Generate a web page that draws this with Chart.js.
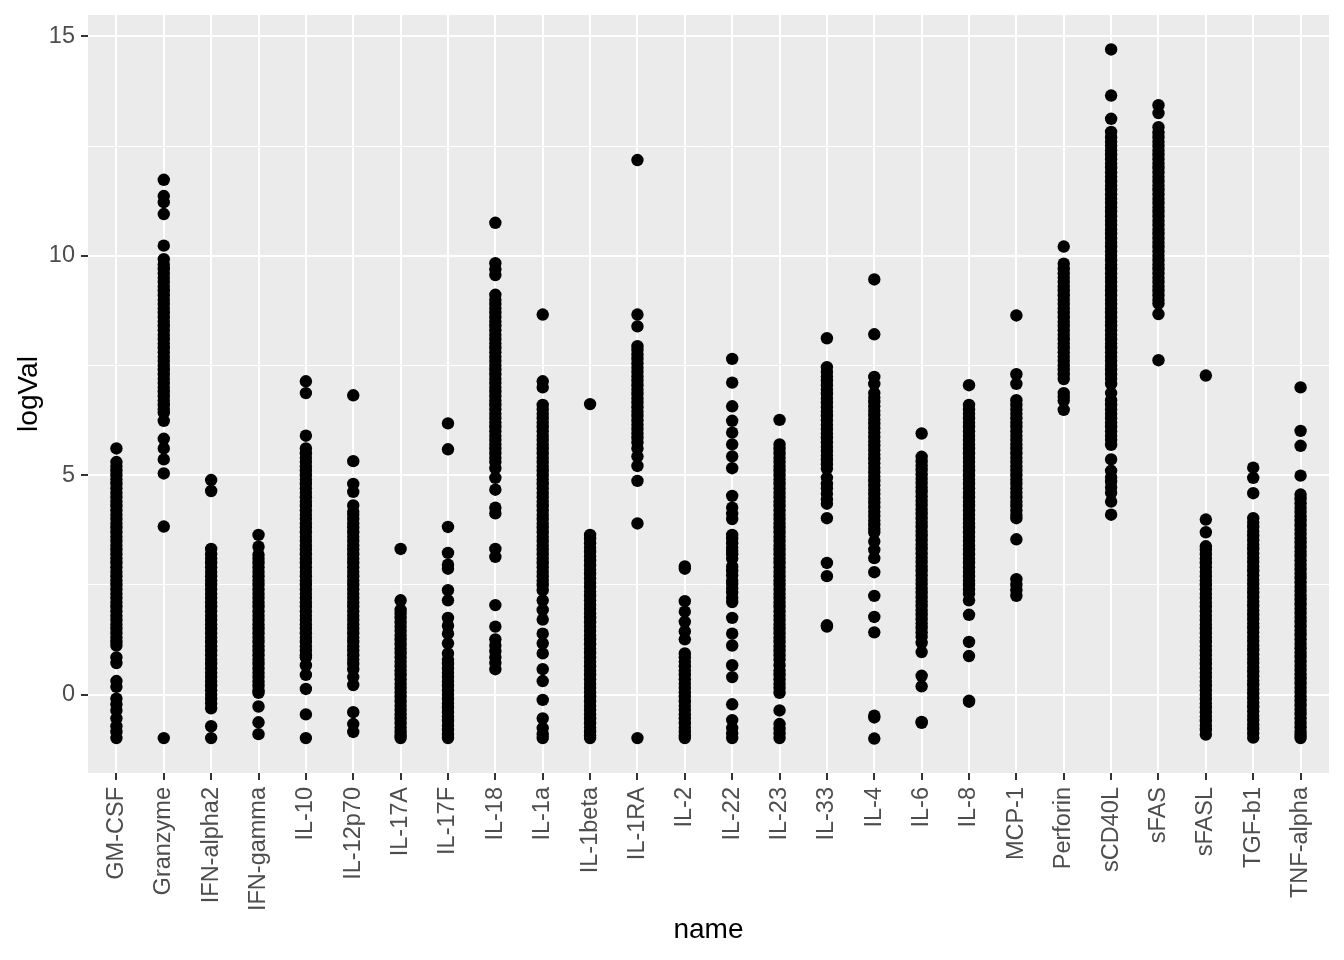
<!DOCTYPE html>
<html>
<head>
<meta charset="utf-8">
<script src="https://cdn.jsdelivr.net/npm/chart.js@4.4.0/dist/chart.umd.min.js"></script>
<style>
  html, body { margin: 0; padding: 0; background: #ffffff; }
  canvas { display: block; }
</style>
</head>
<body>
<canvas id="chart" width="1344" height="960"></canvas>
<script>
// categorias do eixo x
const categories = ['GM-CSF', 'Granzyme', 'IFN-alpha2', 'IFN-gamma', 'IL-10', 'IL-12p70', 'IL-17A', 'IL-17F',
  'IL-18', 'IL-1a', 'IL-1beta', 'IL-1RA', 'IL-2', 'IL-22', 'IL-23', 'IL-33', 'IL-4', 'IL-6', 'IL-8',
  'MCP-1', 'Perforin', 'sCD40L', 'sFAS', 'sFASL', 'TGF-b1', 'TNF-alpha'];

// valores (logVal), uma lista por categoria
const gmCsf = [5.61, 5.3, 5.2, 5.1, 5.0, 4.9, 4.8, 4.7, 4.6, 4.5, 4.4, 4.3, 4.2, 4.1, 4.0, 3.9, 3.8, 3.7, 3.6, 3.5, 3.4, 3.3, 3.2, 3.1, 3.0, 2.9, 2.8, 2.7, 2.6, 2.5, 2.4, 2.3, 2.2, 2.1, 2.0, 1.9, 1.8, 1.7, 1.6, 1.5, 1.4, 1.3, 1.2, 1.12, 0.85, 0.72, 0.31, 0.18, -0.09, -0.22, -0.36, -0.54, -0.72, -0.85, -0.99];
const granzyme = [11.73, 11.36, 11.22, 10.95, 10.23, 9.92, 9.8, 9.7, 9.6, 9.5, 9.4, 9.3, 9.2, 9.1, 9.0, 8.9, 8.8, 8.7, 8.6, 8.5, 8.4, 8.3, 8.2, 8.1, 8.0, 7.9, 7.8, 7.7, 7.6, 7.5, 7.4, 7.3, 7.2, 7.1, 7.0, 6.9, 6.8, 6.7, 6.6, 6.5, 6.42, 6.24, 5.83, 5.61, 5.36, 5.04, 3.83, -0.99];
const ifnAlpha2 = [4.89, 4.64, 3.32, 3.2, 3.1, 3.0, 2.9, 2.8, 2.7, 2.6, 2.5, 2.4, 2.3, 2.2, 2.1, 2.0, 1.9, 1.8, 1.7, 1.6, 1.5, 1.4, 1.3, 1.2, 1.1, 1.0, 0.9, 0.8, 0.7, 0.6, 0.5, 0.4, 0.3, 0.2, 0.1, 0.0, -0.1, -0.2, -0.31, -0.72, -0.99];
const ifnGamma = [3.64, 3.37, 3.19, 3.1, 3.0, 2.9, 2.8, 2.7, 2.6, 2.5, 2.4, 2.3, 2.2, 2.1, 2.0, 1.9, 1.8, 1.7, 1.6, 1.5, 1.4, 1.3, 1.2, 1.1, 1.0, 0.9, 0.8, 0.7, 0.6, 0.5, 0.4, 0.3, 0.2, 0.1, 0.04, -0.27, -0.63, -0.9];
const il10 = [7.14, 6.87, 5.9, 5.61, 5.5, 5.4, 5.3, 5.2, 5.1, 5.0, 4.9, 4.8, 4.7, 4.6, 4.5, 4.4, 4.3, 4.2, 4.1, 4.0, 3.9, 3.8, 3.7, 3.6, 3.5, 3.4, 3.3, 3.2, 3.1, 3.0, 2.9, 2.8, 2.7, 2.6, 2.5, 2.4, 2.3, 2.2, 2.1, 2.0, 1.9, 1.8, 1.7, 1.6, 1.5, 1.4, 1.3, 1.2, 1.1, 1.0, 0.9, 0.85, 0.67, 0.45, 0.13, -0.45, -0.99];
const il12p70 = [6.82, 5.32, 4.8, 4.62, 4.31, 4.17, 4.1, 4.0, 3.9, 3.8, 3.7, 3.6, 3.5, 3.4, 3.3, 3.2, 3.1, 3.0, 2.9, 2.8, 2.7, 2.6, 2.5, 2.4, 2.3, 2.2, 2.1, 2.0, 1.9, 1.8, 1.7, 1.6, 1.5, 1.4, 1.3, 1.2, 1.1, 1.0, 0.9, 0.8, 0.7, 0.58, 0.4, 0.22, -0.4, -0.67, -0.85];
const il17a = [3.32, 2.15, 1.93, 1.85, 1.75, 1.65, 1.55, 1.45, 1.35, 1.25, 1.15, 1.05, 0.95, 0.85, 0.75, 0.65, 0.55, 0.45, 0.35, 0.25, 0.15, 0.05, -0.05, -0.15, -0.25, -0.35, -0.45, -0.55, -0.65, -0.75, -0.85, -0.93, -0.99];
const il17f = [6.18, 5.59, 3.82, 3.23, 2.96, 2.87, 2.38, 2.15, 1.75, 1.57, 1.39, 1.17, 0.94, 0.8, 0.7, 0.6, 0.5, 0.4, 0.3, 0.2, 0.1, 0.0, -0.1, -0.2, -0.3, -0.4, -0.5, -0.6, -0.7, -0.8, -0.9, -0.99];
const il18 = [10.75, 9.83, 9.69, 9.56, 9.11, 9.0, 8.9, 8.8, 8.7, 8.6, 8.5, 8.4, 8.3, 8.2, 8.1, 8.0, 7.9, 7.8, 7.7, 7.6, 7.5, 7.4, 7.3, 7.2, 7.1, 7.0, 6.9, 6.8, 6.7, 6.6, 6.5, 6.4, 6.3, 6.2, 6.1, 6.0, 5.9, 5.8, 5.7, 5.6, 5.5, 5.4, 5.3, 5.16, 4.94, 4.67, 4.26, 4.13, 3.32, 3.14, 2.04, 1.55, 1.26, 1.12, 0.99, 0.85, 0.72, 0.58];
const il1a = [8.66, 7.14, 7.0, 6.6, 6.5, 6.4, 6.3, 6.2, 6.1, 6.0, 5.9, 5.8, 5.7, 5.6, 5.5, 5.4, 5.3, 5.2, 5.1, 5.0, 4.9, 4.8, 4.7, 4.6, 4.5, 4.4, 4.3, 4.2, 4.1, 4.0, 3.9, 3.8, 3.7, 3.6, 3.5, 3.4, 3.3, 3.2, 3.1, 3.0, 2.9, 2.8, 2.7, 2.6, 2.5, 2.38, 2.15, 1.93, 1.71, 1.39, 1.17, 0.94, 0.58, 0.31, -0.12, -0.54, -0.76, -0.9, -0.99];
const il1beta = [6.62, 3.64, 3.55, 3.45, 3.35, 3.25, 3.15, 3.05, 2.95, 2.85, 2.75, 2.65, 2.55, 2.45, 2.35, 2.25, 2.15, 2.05, 1.95, 1.85, 1.75, 1.65, 1.55, 1.45, 1.35, 1.25, 1.15, 1.05, 0.95, 0.85, 0.75, 0.65, 0.55, 0.45, 0.35, 0.25, 0.15, 0.05, -0.05, -0.15, -0.25, -0.35, -0.45, -0.55, -0.65, -0.75, -0.85, -0.93, -0.99];
const il1ra = [12.18, 8.66, 8.39, 7.94, 7.85, 7.75, 7.65, 7.55, 7.45, 7.35, 7.25, 7.15, 7.05, 6.95, 6.85, 6.75, 6.65, 6.55, 6.45, 6.35, 6.25, 6.15, 6.05, 5.95, 5.85, 5.75, 5.61, 5.43, 5.21, 4.87, 3.9, -0.99];
const il2 = [2.92, 2.87, 2.13, 1.89, 1.66, 1.44, 1.26, 0.94, 0.85, 0.75, 0.65, 0.55, 0.45, 0.35, 0.25, 0.15, 0.05, -0.05, -0.15, -0.25, -0.35, -0.45, -0.55, -0.65, -0.75, -0.85, -0.93, -0.99];
const il22 = [7.65, 7.11, 6.57, 6.24, 5.97, 5.7, 5.43, 5.16, 4.53, 4.26, 4.12, 4.0, 3.64, 3.55, 3.45, 3.35, 3.28, 3.2, 3.1, 2.92, 2.82, 2.72, 2.6, 2.52, 2.42, 2.32, 2.2, 2.11, 1.75, 1.39, 1.12, 0.67, 0.4, -0.22, -0.58, -0.76, -0.88, -0.99];
const il23 = [6.26, 5.7, 5.6, 5.5, 5.4, 5.3, 5.2, 5.1, 5.0, 4.9, 4.8, 4.7, 4.6, 4.5, 4.4, 4.3, 4.2, 4.1, 4.0, 3.9, 3.8, 3.7, 3.6, 3.5, 3.4, 3.3, 3.2, 3.1, 3.0, 2.9, 2.8, 2.7, 2.6, 2.5, 2.4, 2.3, 2.2, 2.1, 2.0, 1.9, 1.8, 1.7, 1.6, 1.5, 1.4, 1.3, 1.2, 1.1, 1.0, 0.9, 0.8, 0.67, 0.55, 0.45, 0.35, 0.25, 0.15, 0.04, -0.36, -0.67, -0.78, -0.88, -0.99];
const il33 = [8.12, 7.46, 7.35, 7.25, 7.15, 7.05, 6.95, 6.85, 6.75, 6.65, 6.55, 6.45, 6.35, 6.25, 6.15, 6.05, 5.95, 5.85, 5.75, 5.65, 5.55, 5.45, 5.35, 5.25, 5.15, 4.94, 4.8, 4.7, 4.58, 4.45, 4.35, 4.02, 3.0, 2.7, 1.58, 1.55];
const il4 = [9.46, 8.21, 7.24, 7.08, 6.87, 6.77, 6.67, 6.57, 6.47, 6.37, 6.27, 6.17, 6.07, 5.97, 5.87, 5.77, 5.67, 5.57, 5.47, 5.37, 5.27, 5.17, 5.07, 4.97, 4.87, 4.77, 4.67, 4.57, 4.47, 4.37, 4.27, 4.17, 4.07, 3.97, 3.87, 3.78, 3.7, 3.49, 3.3, 3.11, 2.79, 2.25, 1.77, 1.42, -0.48, -0.52, -1.0];
const il6 = [5.95, 5.42, 5.32, 5.22, 5.12, 5.02, 4.92, 4.82, 4.72, 4.62, 4.52, 4.42, 4.32, 4.22, 4.12, 4.02, 3.92, 3.82, 3.72, 3.62, 3.52, 3.42, 3.32, 3.22, 3.12, 3.02, 2.92, 2.82, 2.72, 2.62, 2.52, 2.42, 2.32, 2.22, 2.12, 2.02, 1.92, 1.82, 1.72, 1.62, 1.52, 1.42, 1.32, 1.18, 0.97, 0.43, 0.19, -0.64, -0.62];
const il8 = [7.05, 6.6, 6.5, 6.4, 6.3, 6.2, 6.1, 6.0, 5.9, 5.8, 5.7, 5.6, 5.5, 5.4, 5.3, 5.2, 5.1, 5.0, 4.9, 4.8, 4.7, 4.6, 4.5, 4.4, 4.3, 4.2, 4.1, 4.0, 3.9, 3.8, 3.7, 3.6, 3.5, 3.4, 3.3, 3.2, 3.1, 3.0, 2.9, 2.8, 2.7, 2.6, 2.5, 2.4, 2.3, 2.15, 1.82, 1.2, 0.88, -0.14, -0.16];
const mcp1 = [8.64, 7.3, 7.08, 6.71, 6.6, 6.5, 6.4, 6.3, 6.2, 6.1, 6.0, 5.9, 5.8, 5.7, 5.6, 5.5, 5.4, 5.3, 5.2, 5.1, 5.0, 4.9, 4.8, 4.7, 4.6, 4.5, 4.4, 4.3, 4.2, 4.1, 4.02, 3.54, 2.63, 2.5, 2.38, 2.25];
const perforin = [10.21, 9.82, 9.7, 9.6, 9.5, 9.4, 9.3, 9.2, 9.1, 9.0, 8.9, 8.8, 8.7, 8.6, 8.5, 8.4, 8.3, 8.2, 8.1, 8.0, 7.9, 7.8, 7.7, 7.6, 7.5, 7.4, 7.3, 7.19, 6.87, 6.78, 6.7, 6.49];
const scd40l = [14.7, 13.65, 13.12, 12.82, 12.7, 12.6, 12.5, 12.4, 12.3, 12.2, 12.1, 12.0, 11.9, 11.8, 11.7, 11.6, 11.5, 11.4, 11.3, 11.2, 11.1, 11.0, 10.9, 10.8, 10.7, 10.6, 10.5, 10.4, 10.3, 10.2, 10.1, 10.0, 9.9, 9.8, 9.7, 9.6, 9.5, 9.4, 9.3, 9.2, 9.1, 9.0, 8.9, 8.8, 8.7, 8.6, 8.5, 8.4, 8.3, 8.2, 8.1, 8.0, 7.9, 7.8, 7.7, 7.6, 7.5, 7.4, 7.3, 7.2, 7.08, 6.87, 6.71, 6.6, 6.5, 6.4, 6.3, 6.2, 6.1, 6.0, 5.9, 5.8, 5.69, 5.36, 5.1, 4.95, 4.85, 4.72, 4.6, 4.4, 4.1];
const sfas = [13.43, 13.25, 12.93, 12.8, 12.7, 12.6, 12.5, 12.4, 12.3, 12.2, 12.1, 12.0, 11.9, 11.8, 11.7, 11.6, 11.5, 11.4, 11.3, 11.2, 11.1, 11.0, 10.9, 10.8, 10.7, 10.6, 10.5, 10.4, 10.3, 10.2, 10.1, 10.0, 9.9, 9.8, 9.7, 9.6, 9.5, 9.4, 9.3, 9.2, 9.1, 9.0, 8.91, 8.67, 7.62];
const sfasl = [7.27, 3.99, 3.7, 3.38, 3.3, 3.2, 3.1, 3.0, 2.9, 2.8, 2.7, 2.6, 2.5, 2.4, 2.3, 2.2, 2.1, 2.0, 1.9, 1.8, 1.7, 1.6, 1.5, 1.4, 1.3, 1.2, 1.1, 1.0, 0.9, 0.8, 0.7, 0.6, 0.5, 0.4, 0.3, 0.2, 0.1, 0.0, -0.1, -0.2, -0.3, -0.4, -0.5, -0.6, -0.7, -0.8, -0.91];
const tgfB1 = [5.17, 4.94, 4.59, 4.02, 3.92, 3.82, 3.72, 3.62, 3.52, 3.42, 3.32, 3.22, 3.12, 3.02, 2.92, 2.82, 2.72, 2.62, 2.52, 2.42, 2.32, 2.22, 2.12, 2.02, 1.92, 1.82, 1.72, 1.62, 1.52, 1.42, 1.32, 1.22, 1.12, 1.02, 0.92, 0.82, 0.72, 0.62, 0.52, 0.42, 0.32, 0.22, 0.12, 0.02, -0.08, -0.18, -0.28, -0.38, -0.48, -0.58, -0.68, -0.78, -0.88, -0.98];
const tnfAlpha = [7.0, 6.01, 5.67, 4.99, 4.56, 4.46, 4.36, 4.26, 4.16, 4.06, 3.96, 3.86, 3.76, 3.66, 3.56, 3.46, 3.36, 3.26, 3.16, 3.06, 2.96, 2.86, 2.76, 2.66, 2.56, 2.46, 2.36, 2.26, 2.16, 2.06, 1.96, 1.86, 1.76, 1.66, 1.56, 1.46, 1.36, 1.26, 1.16, 1.06, 0.96, 0.86, 0.76, 0.66, 0.56, 0.46, 0.36, 0.26, 0.16, 0.06, -0.04, -0.14, -0.24, -0.34, -0.44, -0.54, -0.64, -0.74, -0.84, -0.92, -0.99];

const columns = [gmCsf, granzyme, ifnAlpha2, ifnGamma, il10, il12p70, il17a, il17f, il18, il1a, il1beta, il1ra,
  il2, il22, il23, il33, il4, il6, il8, mcp1, perforin, scd40l, sfas, sfasl, tgfB1, tnfAlpha];

// marcas do eixo y (maiores a cada 5, menores no meio)
const yTicks = [0, 2.5, 5, 7.5, 10, 12.5, 15];

const isMajor = v => v % 5 === 0;

// pontos {x, y}: x = posição da categoria (1..26)
const points = [];
columns.forEach((vals, i) => {
  vals.forEach(v => points.push({ x: i + 1, y: v }));
});

// fundo cinza do painel (estilo ggplot)
const panelBackground = {
  id: 'panelBackground',
  beforeDraw(chart) {
    const { ctx, chartArea: a } = chart;
    ctx.save();
    ctx.fillStyle = '#EBEBEB';
    ctx.fillRect(a.left, a.top, a.right - a.left, a.bottom - a.top);
    ctx.restore();
  }
};

Chart.defaults.font.family = "'Liberation Sans', Arial, Helvetica, sans-serif";

new Chart(document.getElementById('chart').getContext('2d'), {
  type: 'scatter',
  data: {
    datasets: [{
      data: points,
      pointRadius: 6.2,
      pointBackgroundColor: '#000000',
      pointBorderWidth: 0,
      pointHoverRadius: 6.2
    }]
  },
  options: {
    responsive: false,
    animation: false,
    layout: { padding: { top: 15, right: 15, left: 0, bottom: 0 } },
    plugins: { legend: { display: false }, tooltip: { enabled: false } },
    scales: {
      x: {
        type: 'linear',
        min: 0.4,
        max: categories.length + 0.6,
        afterBuildTicks: scale => { scale.ticks = categories.map((c, i) => ({ value: i + 1 })); },
        afterFit: scale => {
          scale.height = 187;
          scale.paddingLeft = 0;
          scale.paddingRight = 0;
        },
        border: { display: false },
        grid: { color: '#FFFFFF', lineWidth: 2, tickColor: '#333333', tickWidth: 2, tickLength: 7 },
        ticks: {
          autoSkip: false,
          maxRotation: 90,
          minRotation: 90,
          padding: 7,
          color: '#4D4D4D',
          font: { size: 23.5 },
          callback: v => categories[v - 1]
        },
        title: { display: true, text: 'name', color: '#000000', font: { size: 28 }, padding: { top: 0, bottom: 13 } }
      },
      y: {
        min: -1.785,
        max: 15.485,
        afterBuildTicks: scale => { scale.ticks = yTicks.map(v => ({ value: v })); },
        afterFit: scale => {
          scale.width = 88;
          scale.paddingTop = 0;
          scale.paddingBottom = 0;
        },
        border: { display: false },
        grid: {
          color: '#FFFFFF',
          lineWidth: c => isMajor(c.tick.value) ? 2 : 1,
          tickColor: c => isMajor(c.tick.value) ? '#333333' : 'rgba(0,0,0,0)',
          tickWidth: 2,
          tickLength: 7
        },
        ticks: {
          padding: 6,
          color: '#4D4D4D',
          font: { size: 23.5 },
          callback: v => isMajor(v) ? String(v) : ''
        },
        title: { display: true, text: 'logVal', color: '#000000', font: { size: 28 }, padding: { top: 12, bottom: 0 } }
      }
    }
  },
  plugins: [panelBackground]
});
</script>
</body>
</html>
